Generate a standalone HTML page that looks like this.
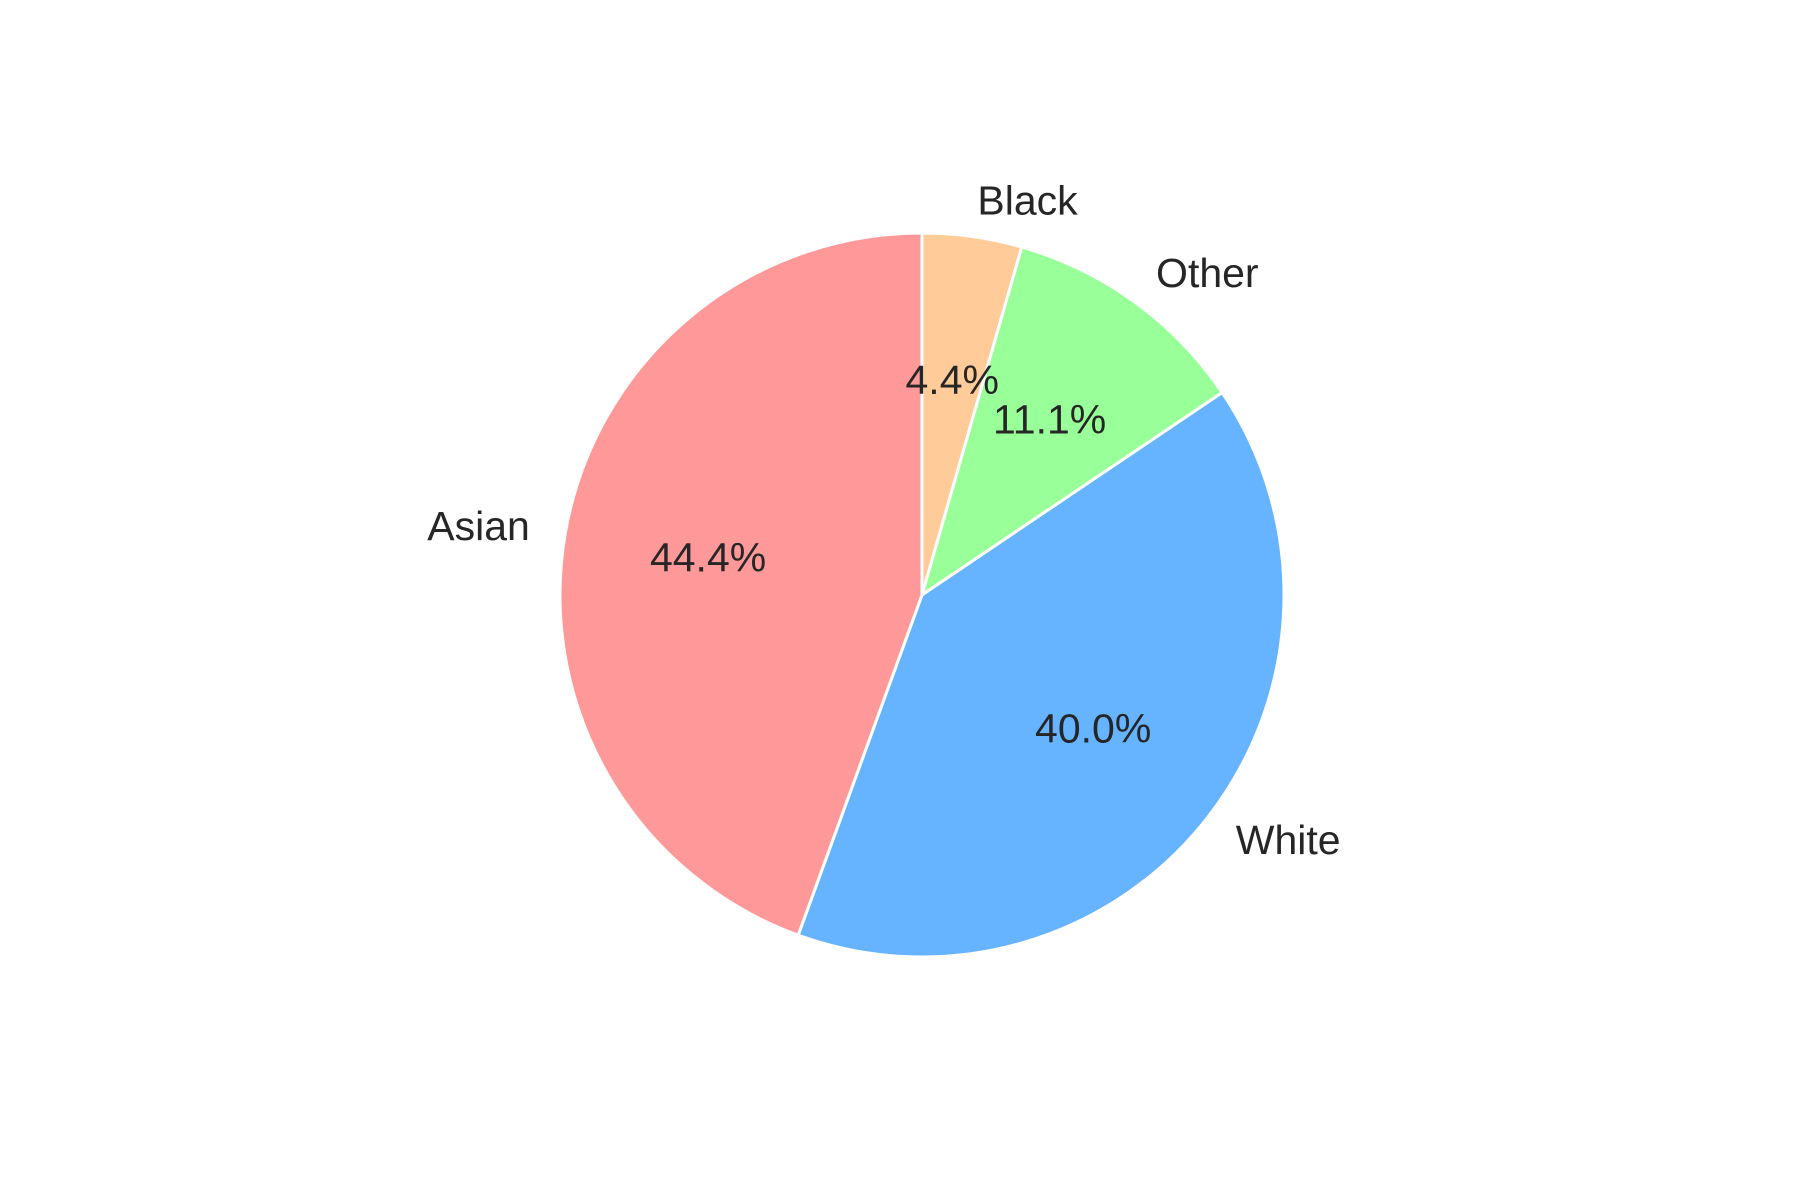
<!DOCTYPE html>
<html><head><meta charset="utf-8"><style>
html,body{margin:0;padding:0;background:#fff;}
svg{display:block;font-family:"Liberation Sans",Arial,sans-serif;}
</style></head><body>
<svg id="chart" width="1800" height="1200" viewBox="0 0 1800 1200">
<g id="slices"></g>
<g id="labels"></g>
</svg>
<script>
const categories = ["Black", "Other", "White", "Asian"];
const values = [2, 5, 18, 20];
const colors = ["#ffcc99", "#99ff99", "#66b3ff", "#ff9999"];
const cx = 922, cy = 595, r = 362;
const gS = document.getElementById('slices');
const gL = document.getElementById('labels');
const NS = 'http://www.w3.org/2000/svg';
const total = values.reduce((a, b) => a + b, 0);
let ang = 90;
function pt(a, rr) { const t = a * Math.PI / 180; return [cx + rr * Math.cos(t), cy - rr * Math.sin(t)]; }
values.forEach((v, i) => {
  const sweep = v / total * 360;
  const a0 = ang, a1 = ang - sweep;
  const p0 = pt(a0, r), p1 = pt(a1, r);
  const path = document.createElementNS(NS, 'path');
  path.setAttribute('d', `M${cx},${cy} L${p0[0]},${p0[1]} A${r},${r} 0 ${sweep > 180 ? 1 : 0} 1 ${p1[0]},${p1[1]} Z`);
  path.setAttribute('fill', colors[i]);
  path.setAttribute('stroke', '#fff');
  path.setAttribute('stroke-width', '3');
  path.setAttribute('stroke-linejoin', 'round');
  
  
  gS.appendChild(path);
  const mid = (a0 + a1) / 2;
  const lp = pt(mid, r * 1.1);
  const lab = document.createElementNS(NS, 'text');
  lab.setAttribute('x', lp[0]);
  lab.setAttribute('y', lp[1]);
  lab.setAttribute('font-size', '41');
  lab.setAttribute('fill', '#262626');
  lab.setAttribute('dominant-baseline', 'central');
  lab.setAttribute('text-anchor', Math.cos(mid * Math.PI / 180) >= 0 ? 'start' : 'end');
  lab.textContent = categories[i];
  
  
  gL.appendChild(lab);
  const pp = pt(mid, r * 0.6);
  const pct = document.createElementNS(NS, 'text');
  pct.setAttribute('x', pp[0]);
  pct.setAttribute('y', pp[1]);
  pct.setAttribute('font-size', '41');
  pct.setAttribute('fill', '#262626');
  pct.setAttribute('dominant-baseline', 'central');
  pct.setAttribute('text-anchor', 'middle');
  pct.textContent = (v / total * 100).toFixed(1) + '%';
  
  
  gL.appendChild(pct);
  ang = a1;
});
</script>
</body></html>
